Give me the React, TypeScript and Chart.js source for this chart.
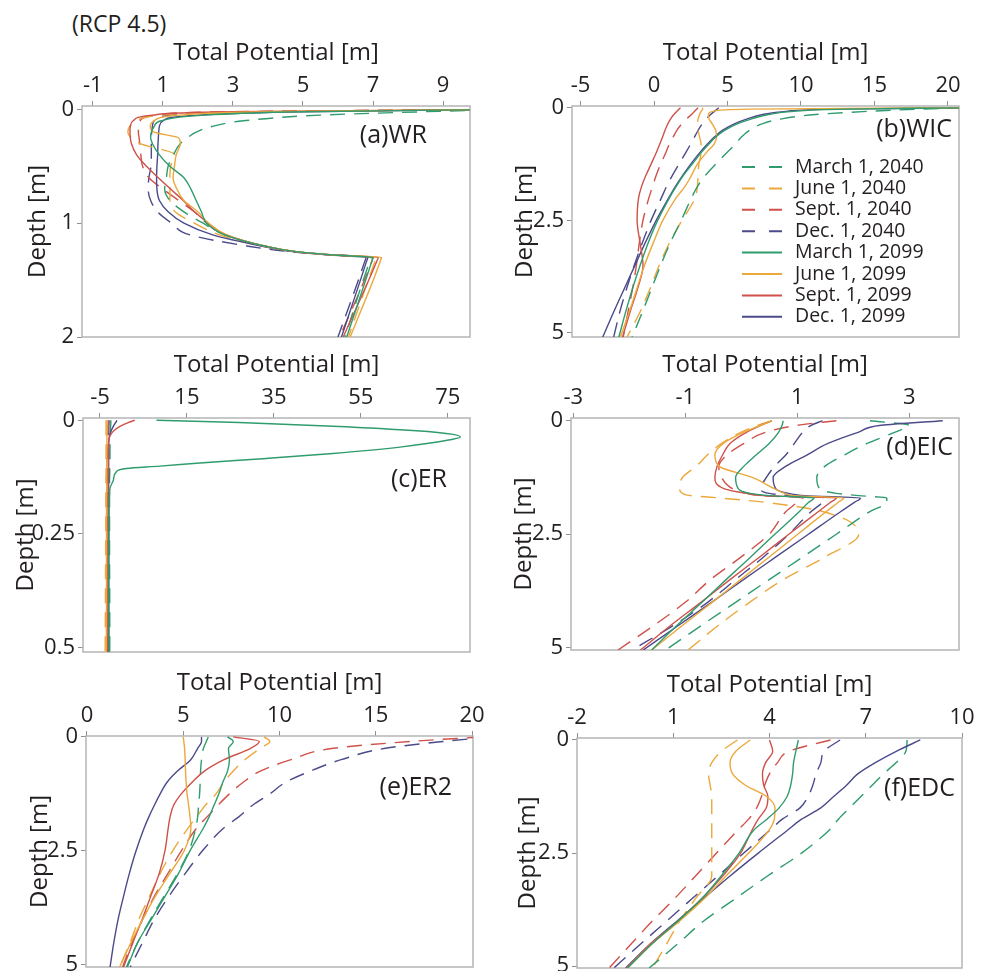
import React, { useEffect, useRef } from 'react';
import { Chart, registerables } from 'chart.js';

Chart.register(...registerables);

const FONT = "'Open Sans', 'DejaVu Sans', sans-serif";
const TEXT = '#231f20';

// ---------- series meta ----------
const seriesLabels = [
  'March 1, 2040', 'June 1, 2040', 'Sept. 1, 2040', 'Dec. 1, 2040',
  'March 1, 2099', 'June 1, 2099', 'Sept. 1, 2099', 'Dec. 1, 2099',
];

// ---------- (a) WR ----------
const depthA = [0, 0.02, 0.05, 0.1, 0.15, 0.2, 0.25, 0.3, 0.4, 0.5, 0.6, 0.7, 0.8, 0.9, 1.0, 1.1, 1.2, 1.25, 1.28, 1.3, 1.34, 2.0];
const wrMar2040 = [11, 8.5, 5.5, 3.3, 2.4, 1.95, 1.7, 1.5, 1.3, 1.15, 1.1, 1.05, 1.2, 1.6, 2.15, 2.75, 3.9, 4.8, 5.9, 6.95, 6.9, 6.2];
const wrJun2040 = [11, 3.5, 1.0, 0.25, 0.05, 0.0, 0.1, 0.35, 1.35, 1.22, 1.2, 1.2, 1.2, 1.35, 1.9, 2.6, 3.8, 4.8, 5.9, 7.1, 7.05, 6.3];
const wrSep2040 = [11, 3.0, 0.8, 0.35, 0.3, 0.3, 0.32, 0.34, 0.37, 0.42, 0.6, 1.0, 1.45, 1.9, 2.25, 2.75, 3.9, 4.8, 5.9, 7.0, 6.96, 6.05];
const wrDec2040 = [11, 3.5, 1.2, 0.75, 0.7, 0.68, 0.67, 0.67, 0.67, 0.66, 0.6, 0.58, 0.65, 0.85, 1.25, 1.75, 3.4, 4.6, 5.8, 6.8, 6.76, 6.0];
const wrMar2099 = [11, 5.0, 2.2, 0.95, 0.75, 0.67, 0.65, 0.7, 0.9, 1.2, 1.6, 1.8, 1.95, 2.1, 2.25, 2.75, 3.9, 4.8, 5.9, 7.0, 6.96, 6.25];
const wrJun2099 = [11, 4.0, 1.5, 0.75, 0.64, 0.75, 1.45, 1.5, 1.38, 1.33, 1.29, 1.4, 1.6, 2.0, 2.3, 2.8, 3.9, 4.8, 5.9, 7.24, 7.2, 6.35];
const wrSep2099 = [11, 3.0, 0.7, 0.15, 0.07, 0.06, 0.07, 0.1, 0.25, 0.53, 0.87, 1.22, 1.58, 1.9, 2.3, 2.8, 3.9, 4.8, 5.9, 7.15, 7.1, 6.15];
const wrDec2099 = [11, 5.0, 2.0, 1.0, 0.9, 0.88, 0.87, 0.86, 0.85, 0.83, 0.82, 0.83, 0.9, 1.15, 1.6, 2.4, 3.8, 4.7, 5.8, 6.85, 6.81, 6.1];
const xTicksA = [-1, 1, 3, 5, 7, 9];
const yTicksA = [0, 1, 2];

// ---------- (b) WIC ----------
const depthB = [0, 0.03, 0.08, 0.15, 0.25, 0.35, 0.5, 0.65, 0.8, 1.0, 1.25, 1.5, 1.75, 2.0, 2.5, 3.0, 3.5, 4.0, 4.5, 5.1];
const wicMar2040 = [21, 18, 14.5, 11, 8.6, 7.4, 6.5, 5.95, 5.55, 4.95, 4.2, 3.5, 2.95, 2.55, 1.85, 1.1, 0.45, -0.15, -0.75, -1.5];
const wicJun2040 = [3.3, 3.3, 3.2, 3.1, 3.0, 2.95, 3.0, 3.1, 3.2, 3.2, 3.05, 3.0, 2.95, 2.8, 1.9, 1.05, 0.35, -0.25, -0.9, -1.85];
const wicSep2040 = [3.0, 2.9, 2.75, 2.55, 2.2, 1.9, 1.55, 1.3, 1.05, 0.8, 0.45, 0.15, -0.1, -0.35, -0.75, -1.0, -1.2, -1.45, -1.75, -2.1];
const wicDec2040 = [4.4, 4.3, 4.1, 3.85, 3.55, 3.3, 3.0, 2.75, 2.5, 2.15, 1.7, 1.25, 0.85, 0.5, -0.2, -0.8, -1.35, -1.85, -2.3, -2.75];
const wicMar2099 = [21, 13, 9.5, 7.8, 6.6, 5.7, 4.8, 4.2, 3.75, 3.2, 2.6, 2.0, 1.5, 1.05, 0.25, -0.4, -0.95, -1.45, -1.9, -2.4];
const wicJun2099 = [21, 6.5, 4.0, 3.7, 3.75, 3.95, 4.2, 4.25, 4.1, 3.55, 2.95, 2.55, 2.1, 1.5, 0.6, -0.05, -0.65, -1.15, -1.65, -2.3];
const wicSep2099 = [1.8, 1.7, 1.55, 1.35, 1.12, 0.95, 0.75, 0.58, 0.4, 0.15, -0.2, -0.55, -0.85, -1.05, -1.15, -0.95, -0.75, -1.1, -1.6, -2.15];
const wicDec2099 = [21, 12, 9.0, 7.4, 6.3, 5.5, 4.65, 4.1, 3.65, 3.1, 2.5, 1.95, 1.45, 1.0, 0.15, -0.6, -1.3, -2.0, -2.7, -3.5];
const xTicksB = [-5, 0, 5, 10, 15, 20];
const yTicksB = [0, 2.5, 5];

// ---------- (c) ER ----------
const depthC = [0, 0.005, 0.013, 0.023, 0.031, 0.037, 0.043, 0.059, 0.073, 0.084, 0.094, 0.101, 0.106, 0.113, 0.131, 0.15, 0.2, 0.3, 0.4, 0.51];
const erMar2040 = [-2.5, -2.5, -2.55, -2.6, -2.6, -2.65, -2.65, -2.7, -2.7, -2.7, -2.75, -2.75, -2.75, -2.75, -2.8, -2.8, -2.8, -2.8, -2.75, -2.75];
const erJun2040 = [-3.6, -3.6, -3.6, -3.6, -3.6, -3.6, -3.6, -3.6, -3.6, -3.6, -3.6, -3.6, -3.6, -3.6, -3.65, -3.65, -3.65, -3.7, -3.75, -3.8];
const erSep2040 = [-3.1, -3.1, -3.15, -3.15, -3.2, -3.2, -3.2, -3.2, -3.2, -3.25, -3.25, -3.25, -3.25, -3.25, -3.25, -3.3, -3.3, -3.3, -3.3, -3.3];
const erDec2040 = [-2.9, -2.9, -2.95, -2.95, -3.0, -3.0, -3.0, -3.0, -3.0, -3.0, -3.05, -3.05, -3.05, -3.05, -3.05, -3.05, -3.1, -3.1, -3.1, -3.1];
const erMar2099 = [8.0, 27, 48.6, 67.8, 76.2, 77.9, 75.5, 64, 48.6, 33.3, 18, 8.8, 1.1, -1.2, -1.9, -2.7, -2.9, -2.95, -2.95, -2.9];
const erJun2099 = [-3.4, -3.4, -3.4, -3.4, -3.4, -3.4, -3.4, -3.4, -3.45, -3.45, -3.45, -3.45, -3.45, -3.45, -3.45, -3.45, -3.5, -3.5, -3.5, -3.55];
const erSep2099 = [3.0, 1.5, -0.3, -1.8, -2.5, -2.8, -2.95, -3.05, -3.1, -3.1, -3.1, -3.1, -3.1, -3.1, -3.15, -3.15, -3.15, -3.2, -3.2, -3.2];
const erDec2099 = [-1.1, -1.4, -1.9, -2.4, -2.7, -2.85, -2.95, -3.0, -3.0, -3.0, -3.0, -3.0, -3.0, -3.0, -3.0, -3.0, -3.0, -3.0, -3.0, -3.0];
const xTicksC = [-5, 15, 35, 55, 75];
const yTicksC = [0, 0.25, 0.5];

// ---------- (d) EIC ----------
const depthD = [0, 0.1, 0.25, 0.5, 0.75, 1.0, 1.25, 1.5, 1.6, 1.65, 1.7, 1.8, 2.0, 2.5, 3.0, 3.5, 4.0, 4.5, 5.05];
const eicMar2040 = [2.3, 3.0, 2.75, 2.25, 1.85, 1.5, 1.35, 1.4, 1.7, 2.1, 2.6, 2.6, 2.3, 1.7, 1.1, 0.5, -0.1, -0.7, -1.35];
const eicJun2040 = [0.55, 0.3, 0.0, -0.35, -0.6, -0.8, -1.05, -1.1, -1.05, -0.9, -0.4, 0.45, 1.45, 2.1, 1.5, 0.75, 0.15, -0.4, -0.95];
const eicSep2040 = [1.7, 1.0, 0.45, 0.05, -0.25, -0.4, -0.35, -0.15, 0.1, 0.4, 1.1, 1.0, 0.8, 0.5, 0.0, -0.55, -1.0, -1.55, -2.2];
const eicDec2040 = [1.45, 1.25, 1.1, 0.95, 0.8, 0.6, 0.45, 0.35, 0.5, 0.9, 1.5, 1.45, 1.25, 0.85, 0.4, -0.1, -0.6, -1.2, -1.95];
const eicMar2099 = [0.75, 0.73, 0.67, 0.5, 0.27, 0.05, -0.1, -0.05, 0.16, 0.5, 1.3, 1.2, 1.04, 0.6, 0.17, -0.27, -0.7, -1.14, -1.6];
const eicJun2099 = [0.55, 0.35, 0.05, -0.32, -0.47, -0.4, 0.2, 0.6, 0.78, 0.95, 1.83, 1.73, 1.52, 1.01, 0.5, -0.01, -0.52, -1.04, -1.6];
const eicSep2099 = [0.55, 0.35, 0.1, -0.2, -0.33, -0.43, -0.47, -0.3, 0.1, 0.4, 1.7, 1.59, 1.38, 0.85, 0.33, -0.2, -0.72, -1.25, -1.8];
const eicDec2099 = [3.6, 2.5, 2.1, 1.55, 1.18, 0.8, 0.57, 0.62, 0.85, 1.15, 2.13, 2.02, 1.78, 1.2, 0.62, 0.04, -0.53, -1.11, -1.75];
const xTicksD = [-3, -1, 1, 3];
const yTicksD = [0, 2.5, 5];

// ---------- (e) ER2 ----------
const depthE = [0, 0.1, 0.25, 0.5, 0.75, 1.0, 1.25, 1.5, 1.75, 2.0, 2.5, 3.0, 3.5, 4.0, 4.5, 5.05];
const er2Mar2040 = [6.3, 6.2, 6.05, 5.95, 5.9, 5.88, 5.85, 5.8, 5.75, 5.65, 5.3, 4.7, 4.0, 3.3, 2.65, 2.05];
const er2Jun2040 = [9.2, 9.5, 9.0, 8.2, 7.6, 7.1, 6.7, 6.15, 5.7, 5.25, 4.45, 3.8, 3.25, 2.7, 2.25, 1.7];
const er2Sep2040 = [20.5, 16.8, 12.8, 10.6, 9.0, 8.1, 7.4, 6.8, 6.25, 5.7, 4.9, 4.2, 3.5, 2.9, 2.35, 1.85];
const er2Dec2040 = [21, 18.5, 15.5, 13.2, 11.6, 10.3, 9.5, 8.6, 7.9, 7.1, 6.0, 5.1, 4.25, 3.5, 2.9, 2.25];
const er2Mar2099 = [7.3, 7.6, 7.35, 7.4, 7.3, 7.05, 6.85, 6.6, 6.35, 6.05, 5.35, 4.75, 4.05, 3.35, 2.65, 2.1];
const er2Jun2099 = [5.0, 5.03, 5.07, 5.1, 5.12, 5.15, 5.2, 5.28, 5.35, 5.4, 5.05, 4.3, 3.55, 2.9, 2.3, 1.7];
const er2Sep2099 = [7.6, 8.95, 8.5, 7.12, 6.1, 5.45, 4.9, 4.5, 4.32, 4.22, 4.05, 3.75, 3.31, 2.87, 2.4, 1.9];
const er2Dec2099 = [5.95, 5.95, 5.75, 5.39, 4.7, 4.15, 3.8, 3.5, 3.22, 2.97, 2.55, 2.2, 1.9, 1.62, 1.4, 1.2];
const xTicksE = [0, 5, 10, 15, 20];
const yTicksE = [0, 2.5, 5];

// ---------- (f) EDC ----------
const depthF = [0, 0.25, 0.5, 0.75, 1.0, 1.25, 1.5, 1.75, 2.0, 2.5, 3.0, 3.5, 4.0, 4.5, 5.04];
const edcMar2040 = [8.29, 8.25, 7.95, 7.55, 7.2, 6.85, 6.5, 6.15, 5.85, 5.0, 3.95, 2.95, 1.95, 1.15, 0.25];
const edcJun2040 = [3.0, 2.5, 2.2, 2.1, 2.15, 2.2, 2.2, 2.2, 2.2, 2.2, 2.2, 1.7, 1.2, 0.8, 0.35];
const edcSep2040 = [5.9, 4.6, 4.25, 4.0, 3.85, 3.75, 3.6, 3.35, 3.0, 2.35, 1.7, 1.05, 0.35, -0.3, -1.0];
const edcDec2040 = [6.2, 5.7, 5.6, 5.45, 5.35, 5.2, 4.95, 4.4, 4.0, 3.2, 2.4, 1.6, 0.8, 0.0, -0.85];
const edcMar2099 = [4.9, 4.82, 4.75, 4.72, 4.66, 4.55, 4.3, 3.92, 3.5, 3.05, 2.5, 1.9, 1.15, 0.35, -0.42];
const edcJun2099 = [3.4, 2.95, 2.77, 2.85, 3.25, 3.91, 4.17, 4.15, 3.98, 3.35, 2.65, 1.98, 1.2, 0.35, -0.42];
const edcSep2099 = [4.0, 4.1, 3.88, 3.78, 3.82, 3.95, 3.9, 3.65, 3.45, 3.1, 2.55, 1.9, 1.15, 0.3, -0.45];
const edcDec2099 = [8.7, 7.95, 7.3, 6.75, 6.4, 6.0, 5.6, 5.0, 4.55, 3.65, 2.78, 1.95, 1.12, 0.3, -0.48];
const xTicksF = [-2, 1, 4, 7, 10];
const yTicksF = [0, 2.5, 5];

// ---------- styles ----------
const seriesColors = ['#2f9c6d', '#eba83c', '#cf514a', '#4b4a8a'];
const DASH = [15, 9];
const HX = 67; // height reserved for the top axis (title + ticks)
const PAD_R = 18;
const PAD_B = 14;
const TICK_SIZE = 22;
const TITLE_SIZE = 24;

type Box = { L: number; T: number; R: number; B: number };
type Spec = {
  key: string;
  tag: string;
  depth: number[];
  series: number[][];
  xMin: number; xMax: number; xTicks: number[];
  yMin: number; yMax: number; yTicks: number[];
  box: Box;
  wy: number;
  tagDx: number; tagDy: number;
  legend?: boolean;
};

const panels: Spec[] = [
  {
    key: 'a', tag: '(a)WR', depth: depthA,
    series: [wrMar2040, wrJun2040, wrSep2040, wrDec2040, wrMar2099, wrJun2099, wrSep2099, wrDec2099],
    xMin: -1.31, xMax: 9.77, xTicks: xTicksA, yMin: -0.03, yMax: 2.0, yTicks: yTicksA,
    box: { L: 82, T: 106, R: 470, B: 337 }, wy: 58, tagDx: 43, tagDy: 30,
  },
  {
    key: 'b', tag: '(b)WIC', depth: depthB,
    series: [wicMar2040, wicJun2040, wicSep2040, wicDec2040, wicMar2099, wicJun2099, wicSep2099, wicDec2099],
    xMin: -5.58, xMax: 20.75, xTicks: xTicksB, yMin: -0.04, yMax: 5.09, yTicks: yTicksB,
    box: { L: 572, T: 106, R: 959, B: 337 }, wy: 61, tagDx: 7, tagDy: 24, legend: true,
  },
  {
    key: 'c', tag: '(c)ER', depth: depthC,
    series: [erMar2040, erJun2040, erSep2040, erDec2040, erMar2099, erJun2099, erSep2099, erDec2099],
    xMin: -8.9, xMax: 80.1, xTicks: xTicksC, yMin: -0.005, yMax: 0.51, yTicks: yTicksC,
    box: { L: 83, T: 418, R: 470, B: 652 }, wy: 71, tagDx: 23, tagDy: 62,
  },
  {
    key: 'd', tag: '(d)EIC', depth: depthD,
    series: [eicMar2040, eicJun2040, eicSep2040, eicDec2040, eicMar2099, eicJun2099, eicSep2099, eicDec2099],
    xMin: -3.04, xMax: 3.89, xTicks: xTicksD, yMin: -0.06, yMax: 5.05, yTicks: yTicksD,
    box: { L: 571, T: 418, R: 959, B: 650 }, wy: 61, tagDx: 6, tagDy: 30,
  },
  {
    key: 'e', tag: '(e)ER2', depth: depthE,
    series: [er2Mar2040, er2Jun2040, er2Sep2040, er2Dec2040, er2Mar2099, er2Jun2099, er2Sep2099, er2Dec2099],
    xMin: -0.05, xMax: 20.05, xTicks: xTicksE, yMin: -0.02, yMax: 5.05, yTicks: yTicksE,
    box: { L: 86, T: 736, R: 473, B: 967 }, wy: 60, tagDx: 21, tagDy: 52,
  },
  {
    key: 'f', tag: '(f)EDC', depth: depthF,
    series: [edcMar2040, edcJun2040, edcSep2040, edcDec2040, edcMar2099, edcJun2099, edcSep2099, edcDec2099],
    xMin: -2, xMax: 10, xTicks: xTicksF, yMin: -0.044, yMax: 5.04, yTicks: yTicksF,
    box: { L: 577, T: 738, R: 962, B: 968 }, wy: 63, tagDx: 7, tagDy: 51,
  },
];

const framePlugin = {
  id: 'frame',
  beforeDatasetsDraw(chart: any) {
    const { ctx, chartArea: a } = chart;
    ctx.save();
    ctx.strokeStyle = '#b5b5b5';
    ctx.lineWidth = 1.5;
    ctx.strokeRect(a.left, a.top, a.right - a.left, a.bottom - a.top);
    ctx.restore();
  },
};

function PanelChart({ spec }: { spec: Spec }) {
  const ref = useRef<HTMLCanvasElement | null>(null);
  const { box, wy } = spec;
  const left = box.L - wy;
  const top = box.T - HX;
  const width = wy + (box.R - box.L) + PAD_R;
  const height = HX + (box.B - box.T) + PAD_B;

  useEffect(() => {
    if (!ref.current) return;
    const datasets = spec.series.map((vals, i) => ({
      label: seriesLabels[i],
      data: spec.depth.map((d, j) => ({ x: vals[j], y: d })),
      borderColor: seriesColors[i % 4],
      backgroundColor: seriesColors[i % 4],
      borderDash: i < 4 ? DASH : [],
      borderWidth: 1.4,
      pointRadius: 0,
      fill: false,
      cubicInterpolationMode: 'monotone' as const,
      order: i < 4 ? 1 : 0,
    }));

    const tagPlugin = {
      id: 'tag',
      afterDatasetsDraw(chart: any) {
        const { ctx, chartArea: a } = chart;
        ctx.save();
        ctx.fillStyle = TEXT;
        ctx.font = `25px ${FONT}`;
        ctx.textAlign = 'right';
        ctx.textBaseline = 'middle';
        ctx.fillText(spec.tag, a.right - spec.tagDx, a.top + spec.tagDy);
        ctx.restore();
      },
    };

    const legendPlugin = {
      id: 'insetLegend',
      afterDatasetsDraw(chart: any) {
        if (!spec.legend) return;
        const { ctx, chartArea: a } = chart;
        ctx.save();
        chart.data.datasets.forEach((ds: any, i: number) => {
          const y = a.top + 61 + i * 21.4;
          ctx.strokeStyle = ds.borderColor;
          ctx.lineWidth = 2;
          ctx.setLineDash(ds.borderDash.length ? [13, 14] : []);
          ctx.beginPath();
          ctx.moveTo(a.left + 170, y);
          ctx.lineTo(a.left + 210, y);
          ctx.stroke();
          ctx.setLineDash([]);
          ctx.fillStyle = TEXT;
          ctx.font = `19.5px ${FONT}`;
          ctx.textAlign = 'left';
          ctx.textBaseline = 'middle';
          ctx.fillText(ds.label, a.left + 223, y);
        });
        ctx.restore();
      },
    };

    const tickFont = { family: FONT, size: TICK_SIZE };
    const titleFont = { family: FONT, size: TITLE_SIZE };

    const chart = new Chart(ref.current, {
      type: 'line',
      data: { datasets },
      plugins: [framePlugin, tagPlugin, legendPlugin],
      options: {
        indexAxis: 'y',
        animation: false,
        responsive: false,
        maintainAspectRatio: false,
        layout: { padding: { left: 0, top: 0, right: PAD_R, bottom: PAD_B } },
        plugins: { legend: { display: false }, tooltip: { enabled: false } },
        scales: {
          x: {
            type: 'linear',
            position: 'top',
            min: spec.xMin,
            max: spec.xMax,
            afterBuildTicks: (s: any) => { s.ticks = spec.xTicks.map((v) => ({ value: v })); },
            afterFit: (s: any) => { s.height = HX; s.paddingLeft = 0; s.paddingRight = 0; },
            ticks: {
              color: TEXT, font: tickFont, padding: 2, maxRotation: 0, autoSkip: false,
              callback: (v: any) => String(v),
            },
            grid: { drawOnChartArea: false, drawTicks: true, tickLength: 5, color: '#8f8f8f', lineWidth: 1 },
            border: { display: false },
            title: { display: true, text: 'Total Potential [m]', color: TEXT, font: titleFont, padding: 0 },
          },
          y: {
            type: 'linear',
            position: 'left',
            reverse: true,
            min: spec.yMin,
            max: spec.yMax,
            afterBuildTicks: (s: any) => { s.ticks = spec.yTicks.map((v) => ({ value: v })); },
            afterFit: (s: any) => { s.width = wy; s.paddingTop = 0; s.paddingBottom = 0; },
            ticks: {
              color: TEXT, font: tickFont, padding: 3, autoSkip: false,
              callback: (v: any) => String(v),
            },
            grid: { drawOnChartArea: false, drawTicks: true, tickLength: 5, color: '#8f8f8f', lineWidth: 1 },
            border: { display: false },
            title: { display: true, text: 'Depth [m]', color: TEXT, font: titleFont, padding: 0 },
          },
        },
      } as any,
    });
    return () => chart.destroy();
  }, [spec]);

  return (
    <canvas
      ref={ref}
      width={width}
      height={height}
      style={{ position: 'absolute', left, top, width, height }}
    />
  );
}

export default function App() {
  return (
    <div
      style={{
        position: 'fixed', left: 0, top: 0, width: 987, height: 971,
        overflow: 'hidden', background: '#ffffff',
      }}
    >
      <div
        style={{
          position: 'absolute', left: 72, top: 7, fontFamily: FONT, fontSize: 23,
          lineHeight: '32px', color: TEXT, whiteSpace: 'nowrap',
        }}
      >
        (RCP 4.5)
      </div>
      {panels.map((p) => (
        <PanelChart key={p.key} spec={p} />
      ))}
    </div>
  );
}
